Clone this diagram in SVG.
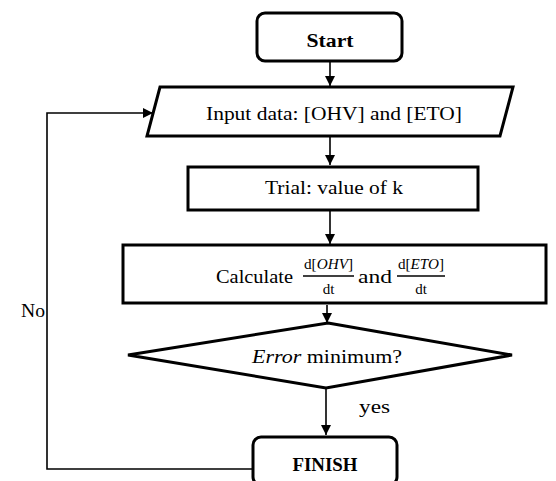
<svg xmlns="http://www.w3.org/2000/svg" width="556" height="481" viewBox="0 0 556 481">
<style>
  .box{fill:#fff;stroke:#000;stroke-width:3}
  .conn{fill:none;stroke:#000;stroke-width:1.6}
  text{font-family:"Liberation Serif","DejaVu Serif",serif;fill:#000}
  .t{font-size:19.5px}
  .b{font-size:18px;font-weight:bold}
  .f{font-size:15px}
  .i{font-style:italic}
</style>
<defs>
  <marker id="ah" markerUnits="userSpaceOnUse" markerWidth="10" markerHeight="10" refX="10" refY="5" orient="auto">
    <path d="M0,0 L10,5 L0,10 z" fill="#000"/>
  </marker>
</defs>
<rect width="556" height="481" fill="#fff"/>
<g id="connectors">
  <line class="conn" x1="330" y1="62" x2="330" y2="86" marker-end="url(#ah)"/>
  <line class="conn" x1="330" y1="137" x2="330" y2="165" marker-end="url(#ah)"/>
  <line class="conn" x1="330" y1="211" x2="330" y2="244" marker-end="url(#ah)"/>
  <line class="conn" x1="327" y1="305" x2="327" y2="323" marker-end="url(#ah)"/>
  <line class="conn" x1="326" y1="388" x2="326" y2="435" marker-end="url(#ah)"/>
  <polyline class="conn" points="253,469 47,469 47,113 153,113" marker-end="url(#ah)"/>
  <text class="t" x="359" y="413" textLength="31" lengthAdjust="spacingAndGlyphs">yes</text>
  <text class="t" x="21" y="317" textLength="24" lengthAdjust="spacingAndGlyphs">No</text>
</g>
<g id="start">
  <rect class="box" x="257" y="13" width="145" height="48" rx="8"/>
  <text class="b" x="330" y="47" text-anchor="middle" textLength="47" lengthAdjust="spacingAndGlyphs">Start</text>
</g>
<g id="input">
  <polygon class="box" points="160,87 513,87 500,136 147,136"/>
  <text class="t" x="206" y="120" textLength="256" lengthAdjust="spacingAndGlyphs">Input data: [OHV] and [ETO]</text>
</g>
<g id="trial">
  <rect class="box" x="188" y="167" width="290" height="43"/>
  <text class="t" x="265" y="194" textLength="138" lengthAdjust="spacingAndGlyphs">Trial: value of k</text>
</g>
<g id="calculate">
  <rect class="box" x="123" y="245" width="423" height="58"/>
  <text class="t" x="216" y="283" textLength="77" lengthAdjust="spacingAndGlyphs">Calculate</text>
  <text class="f" x="304" y="269" textLength="49" lengthAdjust="spacingAndGlyphs">d[<tspan class="i">OHV</tspan>]</text>
  <line x1="303" y1="276" x2="354" y2="276" stroke="#000" stroke-width="1.3"/>
  <text class="f" x="328.5" y="294" text-anchor="middle">dt</text>
  <text class="t" x="358" y="283" textLength="34" lengthAdjust="spacingAndGlyphs">and</text>
  <text class="f" x="398" y="269" textLength="46" lengthAdjust="spacingAndGlyphs">d[<tspan class="i">ETO</tspan>]</text>
  <line x1="397" y1="276" x2="445" y2="276" stroke="#000" stroke-width="1.3"/>
  <text class="f" x="421" y="294" text-anchor="middle">dt</text>
</g>
<g id="decision">
  <polygon class="box" points="328,323 512,355 326,388 128,355"/>
  <text class="t" x="252" y="363" textLength="150" lengthAdjust="spacingAndGlyphs"><tspan class="i">Error</tspan> minimum?</text>
</g>
<g id="finish">
  <rect class="box" x="253" y="437" width="144" height="48" rx="8"/>
  <text class="b" x="325" y="471" text-anchor="middle" textLength="65" lengthAdjust="spacingAndGlyphs">FINISH</text>
</g>
</svg>
